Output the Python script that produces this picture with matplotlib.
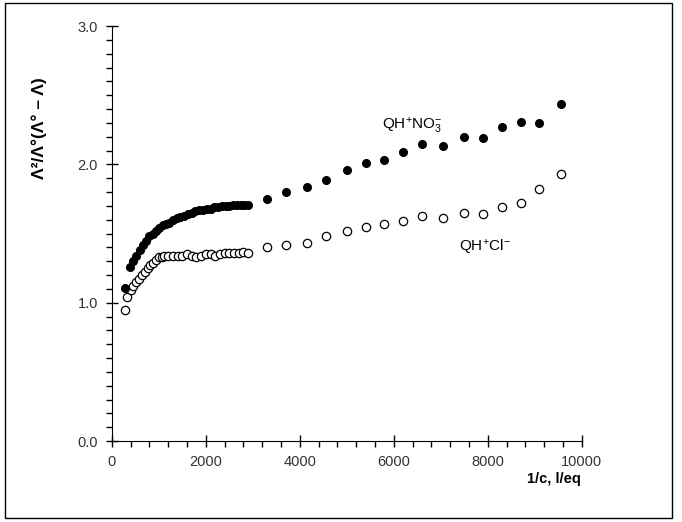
import matplotlib
matplotlib.use("Agg")
import matplotlib.pyplot as plt
from matplotlib.patches import Rectangle
from matplotlib.ticker import MultipleLocator, FormatStrFormatter

plt.rcParams['font.family'] = ['Liberation Sans', 'DejaVu Sans']
plt.rcParams['mathtext.fontset'] = 'custom'
plt.rcParams['mathtext.rm'] = 'Liberation Sans'
plt.rcParams['mathtext.it'] = 'Liberation Sans:italic'
plt.rcParams['mathtext.bf'] = 'Liberation Sans:bold'

# QH+NO3- (filled circles)
no3_x = [280, 380, 450, 520, 590, 660, 730, 800, 870, 940, 1010, 1080, 1150, 1220,
         1300, 1380, 1460, 1540, 1620, 1700, 1780, 1860, 1940, 2020, 2100, 2180,
         2260, 2340, 2420, 2500, 2580, 2660, 2740, 2820, 2900,
         3300, 3700, 4150, 4550, 5000, 5400, 5800, 6200, 6600, 7050, 7500, 7900,
         8300, 8700, 9100, 9550]
no3_y = [1.11, 1.26, 1.30, 1.34, 1.38, 1.42, 1.45, 1.48, 1.50, 1.52, 1.54, 1.56,
         1.57, 1.58, 1.60, 1.61, 1.62, 1.63, 1.64, 1.65, 1.66, 1.67, 1.67, 1.68,
         1.68, 1.69, 1.69, 1.70, 1.70, 1.70, 1.71, 1.71, 1.71, 1.71, 1.71,
         1.75, 1.80, 1.84, 1.89, 1.96, 2.01, 2.03, 2.09, 2.15, 2.13, 2.20, 2.19,
         2.27, 2.31, 2.30, 2.44]

# QH+Cl- (open circles)
cl_x = [280, 330, 400, 460, 520, 580, 640, 700, 760, 820, 880, 940, 1000, 1060,
        1120, 1200, 1300, 1400, 1500, 1600, 1700, 1800, 1900, 2000, 2100, 2200,
        2300, 2400, 2500, 2600, 2700, 2800, 2900,
        3300, 3700, 4150, 4550, 5000, 5400, 5800, 6200, 6600, 7050, 7500, 7900,
        8300, 8700, 9100, 9550]
cl_y = [0.95, 1.04, 1.09, 1.12, 1.15, 1.17, 1.20, 1.22, 1.25, 1.27, 1.29, 1.31,
        1.33, 1.33, 1.34, 1.34, 1.34, 1.34, 1.34, 1.35, 1.34, 1.33, 1.34, 1.35,
        1.35, 1.34, 1.35, 1.36, 1.36, 1.36, 1.36, 1.37, 1.36,
        1.40, 1.42, 1.43, 1.48, 1.52, 1.55, 1.57, 1.59, 1.63, 1.61, 1.65, 1.64,
        1.69, 1.72, 1.82, 1.93]

fig = plt.figure(figsize=(6.82, 5.22), dpi=100)
ax = fig.add_axes([0.164, 0.155, 0.689, 0.795])

ax.plot(cl_x, cl_y, 'o', ms=6, mfc='white', mec='black', mew=0.9, ls='none')
ax.plot(no3_x, no3_y, 'o', ms=5.5, mfc='black', mec='black', ls='none')

ax.set_xlim(0, 10000)
ax.set_ylim(0, 3.0)
ax.xaxis.set_major_locator(MultipleLocator(2000))
ax.xaxis.set_minor_locator(MultipleLocator(400))
ax.yaxis.set_major_locator(MultipleLocator(1.0))
ax.yaxis.set_minor_locator(MultipleLocator(0.1))
ax.yaxis.set_major_formatter(FormatStrFormatter('%.1f'))

ax.spines['top'].set_visible(False)
ax.spines['right'].set_visible(False)
ax.tick_params(which='major', direction='inout', length=8, width=1,
               labelsize=10.5, labelcolor='#333333', pad=6)
ax.tick_params(which='minor', direction='out', length=4, width=1)

ax.text(6400, 2.28, r'QH$^{+}$NO$_3^{-}$', fontsize=11, ha='center', va='center')
ax.text(7930, 1.40, r'QH$^{+}$Cl$^{-}$', fontsize=11, ha='center', va='center')

fig.text(0.852, 0.075, '1/c, l/eq', fontsize=10.5, fontweight='bold', ha='right')
fig.text(0.058, 0.755, 'Λ²/Λ°(Λ° – Λ)', fontsize=12.5, fontweight='bold',
         rotation=90, ha='center', va='center')

fig.patches.append(Rectangle((0.007, 0.008), 0.978, 0.986, transform=fig.transFigure,
                             fill=False, ec='black', lw=1))

fig.savefig('out.png', dpi=100)
